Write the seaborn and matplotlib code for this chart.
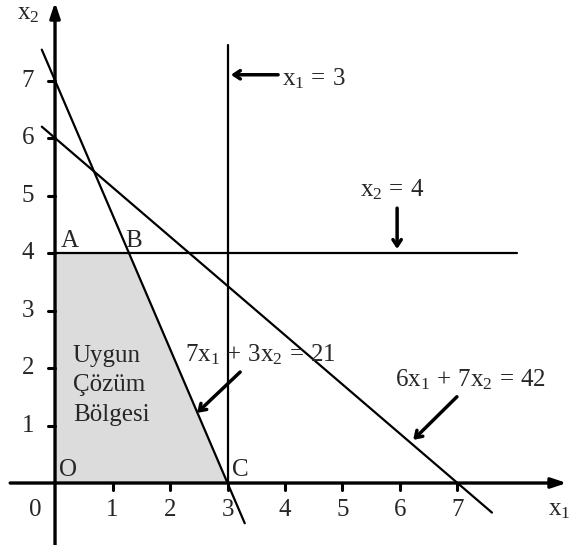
import numpy as np
import pandas as pd
import matplotlib
matplotlib.use("Agg")
import matplotlib.pyplot as plt
import seaborn as sns

# Constraint data: a*x1 + b*x2 = c
constraint_a = [7, 6]
constraint_b = [3, 7]
constraint_c = [21, 42]
constraint_labels = [r"$7x_1\,+\,3x_2\,=\,21$", r"$6x_1\,+\,7x_2\,=\,42$"]
line_x_start = [-0.23, -0.23]
line_x_end = [3.3, 7.6]

x1_limit = 3
x2_limit = 4

# Feasible region corners
corner_names = ["O", "A", "B", "C"]
corner_x1 = [0, 0, 9 / 7, 3]
corner_x2 = [0, 4, 4, 0]

tick_values = [1, 2, 3, 4, 5, 6, 7]

sns.set_style("white")
plt.rcParams["font.family"] = ["Liberation Serif", "DejaVu Serif"]
plt.rcParams["mathtext.fontset"] = "custom"
plt.rcParams["mathtext.rm"] = "Liberation Serif"
plt.rcParams["mathtext.it"] = "Liberation Serif"
plt.rcParams["mathtext.bf"] = "Liberation Serif:bold"

FS = 18
fig = plt.figure(figsize=(5.7, 5.45), dpi=100)
ax = fig.add_axes([0, 0, 1, 1])
ax.set_xlim(-0.957, 8.957)
ax.set_ylim(-1.078, 8.4)
ax.axis("off")

# shaded region
ax.fill(corner_x1, corner_x2, color="#dcdcdc", zorder=1, lw=0)

# constraint lines
for a, b, c, xs, xe in zip(constraint_a, constraint_b, constraint_c, line_x_start, line_x_end):
    xx = np.array([xs, xe])
    df = pd.DataFrame({"x1": xx, "x2": (c - a * xx) / b})
    sns.lineplot(data=df, x="x1", y="x2", ax=ax, color="black", lw=1.6,
                 estimator=None, sort=False, zorder=3)

# x1 = 3 and x2 = 4
sns.lineplot(x=[x1_limit, x1_limit], y=[0, 7.62], ax=ax, color="black", lw=1.6,
             estimator=None, sort=False, zorder=3)
sns.lineplot(x=[0, 8.03], y=[x2_limit, x2_limit], ax=ax, color="black", lw=1.6,
             estimator=None, sort=False, zorder=3)

# axes with arrows
axis_kw = dict(arrowstyle="-|>,head_length=0.9,head_width=0.3", color="black", lw=2.4,
               shrinkA=0, shrinkB=0)
ax.annotate("", xy=(8.90, 0), xytext=(-0.78, 0), arrowprops=axis_kw, zorder=4)
ax.annotate("", xy=(0, 8.36), xytext=(0, -1.1), arrowprops=axis_kw, zorder=4)

for t in tick_values:
    ax.plot([t, t], [0, -0.12], color="black", lw=2.2, zorder=4)
    ax.plot([-0.12, 0], [t, t], color="black", lw=2.2, zorder=4)
    ax.text(t, -0.47, str(t), fontsize=FS, ha="center", va="center")
    ax.text(-0.47, t, str(t), fontsize=FS, ha="center", va="center")
ax.text(-0.35, -0.47, "0", fontsize=FS, ha="center", va="center")
ax.text(8.77, -0.47, "$x_1$", fontsize=FS, ha="center", va="center")
ax.text(-0.47, 8.16, "$x_2$", fontsize=FS, ha="center", va="center")

# corner labels
label_pos = {"O": (0.23, 0.23), "A": (0.26, 4.21), "B": (1.36, 4.21), "C": (3.22, 0.23)}
for name in corner_names:
    px, py = label_pos[name]
    ax.text(px, py, name, fontsize=FS, ha="center", va="center", zorder=5)

ax.text(0.31, 1.70, "Uygun\nÇözüm\nBölgesi", fontsize=FS, ha="left", va="center",
        linespacing=1.45, zorder=5)

# annotations
arr_kw = dict(arrowstyle="->,head_length=0.45,head_width=0.3", color="black", lw=2.5,
              shrinkA=0, shrinkB=0)
ax.annotate("", xy=(3.06, 7.1), xytext=(3.88, 7.1), arrowprops=arr_kw)
ax.text(3.95, 7.04, r"$x_1\,=\,3$", fontsize=FS, ha="left", va="center")

ax.annotate("", xy=(5.95, 4.07), xytext=(5.95, 4.78), arrowprops=arr_kw)
ax.text(5.86, 5.10, r"$x_2\,=\,4$", fontsize=FS, ha="center", va="center")

ax.annotate("", xy=(2.47, 1.22), xytext=(3.22, 1.93), arrowprops=arr_kw)
ax.text(2.26, 2.23, constraint_labels[0], fontsize=FS, ha="left", va="center")

ax.annotate("", xy=(6.23, 0.75), xytext=(6.99, 1.50), arrowprops=arr_kw)
ax.text(7.22, 1.79, constraint_labels[1], fontsize=FS, ha="center", va="center")

fig.savefig("out.png", dpi=100)
